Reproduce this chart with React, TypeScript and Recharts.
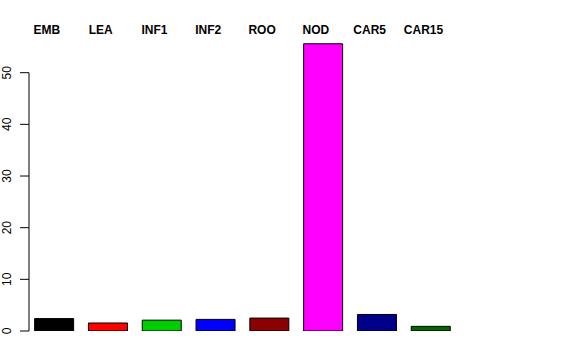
import React from 'react';
import { BarChart, Bar, XAxis, YAxis, Cell } from 'recharts';

const tissues = ['EMB', 'LEA', 'INF1', 'INF2', 'ROO', 'NOD', 'CAR5', 'CAR15'];
const expression = [2.4, 1.55, 2.1, 2.25, 2.5, 55.6, 3.2, 0.9];
const barColors = ['#000000', '#FF0000', '#00CD00', '#0000FF', '#8B0000', '#FF00FF', '#00008B', '#006400'];
const yTicks = [0, 10, 20, 30, 40, 50];

const data = tissues.map((name, i) => ({ name, value: expression[i] }));

const AXIS_X = 29;
const TICK_STEP = 51.66; // px between y ticks

const YTick = (props: any) => {
  const { y, payload } = props;
  const isLast = payload.value === yTicks[yTicks.length - 1];
  return (
    <g>
      <line x1={AXIS_X - 9} x2={AXIS_X} y1={y} y2={y} stroke="#000" strokeWidth={1} />
      {!isLast && (
        <line x1={AXIS_X} x2={AXIS_X} y1={y} y2={y - TICK_STEP} stroke="#000" strokeWidth={1} />
      )}
      <text
        x={11}
        y={y}
        transform={`rotate(-90 11 ${y})`}
        textAnchor="middle"
        fontSize={12}
        fontFamily="Liberation Sans, Arial, sans-serif"
        fill="#000"
      >
        {payload.value}
      </text>
    </g>
  );
};

const XTick = (props: any) => {
  const { x, payload } = props;
  return (
    <text
      x={x - 7}
      y={34}
      textAnchor="middle"
      fontSize={12}
      fontWeight="bold"
      fontFamily="Liberation Sans, Arial, sans-serif"
      fill="#000"
    >
      {payload.value}
    </text>
  );
};

export default function App() {
  return (
    <div style={{ position: 'absolute', left: 0, top: 0, background: '#fff' }}>
      <BarChart
        width={576}
        height={360}
        data={data}
        margin={{ top: 11.7, right: 118.6, bottom: 29, left: 17 }}
        barCategoryGap="14.2%"
      >
        <XAxis
          dataKey="name"
          orientation="top"
          height={30}
          axisLine={false}
          tickLine={false}
          tick={<XTick />}
          interval={0}
        />
        <YAxis
          width={10}
          domain={[0, 56]}
          ticks={yTicks}
          allowDataOverflow
          axisLine={false}
          tickLine={false}
          tick={<YTick />}
          interval={0}
        />
        <Bar dataKey="value" stroke="#000" strokeWidth={1} isAnimationActive={false}>
          {data.map((d, i) => (
            <Cell key={d.name} fill={barColors[i]} />
          ))}
        </Bar>
      </BarChart>
    </div>
  );
}
